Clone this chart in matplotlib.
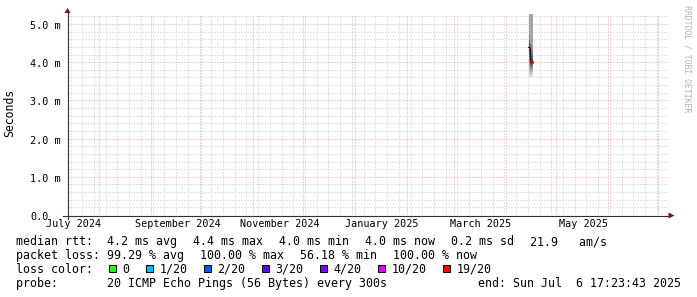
"""
Smokeping style latency graph (1 year view) redrawn with matplotlib.
"""
import matplotlib
matplotlib.use("Agg")
import matplotlib.pyplot as plt
import matplotlib.dates as mdates
import matplotlib.transforms as mtransforms
from matplotlib.patches import Rectangle
from matplotlib.ticker import MultipleLocator
import pandas as pd

W, H, DPI = 697, 297, 100
MONO = "DejaVu Sans Mono"

# ---- data ------------------------------------------------------------------
x_start = pd.Timestamp("2024-07-12 21:00")
x_end = pd.Timestamp("2025-07-06 17:23")
y_max_ms = 5.26

# the only replies of the year: a short burst in mid April 2025
sample_start = pd.to_datetime(["2025-04-14 12:00", "2025-04-15 02:00",
                               "2025-04-15 16:00", "2025-04-16 06:00"])
sample_days = 0.58
median_ms = [4.4, 4.0, 4.0, 4.0]
loss_of_sample = [19, 19, 19, 19]
# 20 sorted ping times (ms) per sample
pings_ms = [
    [3.62, 3.70, 3.78, 3.86, 3.94, 4.02, 4.10, 4.20, 4.30, 4.40,
     4.42, 4.46, 4.50, 4.55, 4.60, 4.70, 5.40, 5.90, 6.30, 6.80],
    [3.60, 3.66, 3.72, 3.78, 3.82, 3.86, 3.90, 3.94, 3.97, 4.00,
     4.02, 4.08, 4.16, 4.26, 4.36, 4.50, 5.40, 5.90, 6.30, 6.80],
    [3.60, 3.67, 3.73, 3.79, 3.83, 3.87, 3.91, 3.95, 3.98, 4.00,
     4.02, 4.07, 4.15, 4.25, 4.35, 4.48, 5.35, 5.80, 6.20, 6.60],
    [3.62, 3.68, 3.74, 3.80, 3.84, 3.88, 3.92, 3.95, 3.98, 4.00,
     4.02, 4.08, 4.14, 4.22, 4.32, 4.45, 5.30, 5.70, 6.00, 6.50],
]

y_ticks = [0, 1, 2, 3, 4, 5]
y_tick_labels = ["0.0", "1.0 m", "2.0 m", "3.0 m", "4.0 m", "5.0 m"]

month_labels = ["July 2024", "September 2024", "November 2024",
                "January 2025", "March 2025", "May 2025"]
month_label_starts = pd.to_datetime(["2024-07-01", "2024-09-01", "2024-11-01",
                                     "2025-01-01", "2025-03-01", "2025-05-01"])

loss_steps = ["0", "1/20", "2/20", "3/20", "4/20", "10/20", "19/20"]
loss_levels = [0, 1, 2, 3, 4, 10, 19]
loss_colors = ["#26ff00", "#00b8ff", "#0059ff", "#5e00ff", "#7e00ff",
               "#dd00ff", "#ff0000"]

rtt_items = ["median rtt:  4.2 ms avg", "4.4 ms max", "4.0 ms min",
             "4.0 ms now", "0.2 ms sd", "21.9   am/s"]
loss_items = ["packet loss: 99.29 % avg", "100.00 % max", "56.18 % min",
              "100.00 % now"]
probe_text = "probe:       20 ICMP Echo Pings (56 Bytes) every 300s"
end_text = "end: Sun Jul  6 17:23:43 2025"


def loss_color(loss):
    col = loss_colors[0]
    for lvl, c in zip(loss_levels, loss_colors):
        if loss >= lvl:
            col = c
    return col


# ---- layout (pixel geometry of the rrdtool canvas) -------------------------
left, right, top, bottom = 67, 668, 14, 215
baselines = [245.2, 259.1, 272.8, 286.6]
leg_size = 8.37      # ~7 px per character
char_w = 7.0
gap = 16             # rrdtool space between legend items
box_slot = 14

fig = plt.figure(figsize=(W / DPI, H / DPI), dpi=DPI, facecolor="white")
ax = fig.add_axes([left / W, 1 - bottom / H, (right - left) / W, (bottom - top) / H])
ax.set_facecolor("white")
ax.set_xlim(mdates.date2num(x_start), mdates.date2num(x_end))
ax.set_ylim(0, y_max_ms)

# grid
ax.xaxis.set_major_locator(mdates.MonthLocator())
ax.xaxis.set_minor_locator(mdates.WeekdayLocator(byweekday=mdates.MO))
ax.yaxis.set_major_locator(MultipleLocator(1))
ax.yaxis.set_minor_locator(MultipleLocator(0.2))
ax.grid(which="minor", color="#c8c8c8", ls=(0, (1, 2)), lw=0.72)
ax.grid(which="major", color="#ff0000", alpha=0.38, ls=(0, (1, 2)), lw=0.72)
ax.tick_params(which="both", length=0, labelbottom=False, labelleft=False)
for s in ax.spines.values():
    s.set_visible(False)
ax.set_axisbelow(True)

# smoke: pairs of sorted pings filled as grey bands, darker toward the middle
t_edges = [mdates.date2num(t) for t in sample_start]
x_edges = t_edges + [t_edges[-1] + sample_days]
half = 10
for i in range(half):
    g = int(190 / half * (half - (i + 1))) + 50
    lo = [p[i] for p in pings_ms]
    hi = [p[19 - i] for p in pings_ms]
    ax.fill_between(x_edges, lo + [lo[-1]], hi + [hi[-1]], step="post",
                    color=f"#{g:02x}{g:02x}{g:02x}", lw=0, zorder=2)

# median: thin dark step line under loss coloured segments
ax.step([t_edges[0] - sample_days] + x_edges,
        [median_ms[0]] + median_ms + [median_ms[-1]],
        where="post", color="#202020", lw=0.8, zorder=3)
for t0, m, lo in zip(t_edges, median_ms, loss_of_sample):
    ax.hlines(m, t0, t0 + sample_days, color=loss_color(lo), lw=2.3, zorder=4)

# y labels (left aligned like rrdtool's fixed-width labels)
ytr = mtransforms.offset_copy(ax.get_yaxis_transform(), fig, x=0, y=-3.6,
                              units="points")
for v, lab in zip(y_ticks, y_tick_labels):
    ax.text((30 - left) / (right - left), v, lab, transform=ytr, ha="left",
            va="baseline", family=MONO, size=7.3)

# month labels, centred half a month after the month start
xtr = ax.get_xaxis_transform()
for m0, lab in zip(month_label_starts, month_labels):
    ax.text(mdates.date2num(m0 + pd.Timedelta(days=16)), -(227 - bottom) / (bottom - top),
            lab, transform=xtr, ha="center", va="baseline", family=MONO, size=7.3)

# ---- overlay in canvas pixels: axes, arrows, legend --------------------------
ov = fig.add_axes([0, 0, 1, 1], zorder=5)
ov.set_xlim(0, W)
ov.set_ylim(H, 0)
ov.axis("off")

axis_col, arrow_col = "#303030", "#8b1010"
ov.plot([63, 671], [bottom + 0.5, bottom + 0.5], color=axis_col, lw=0.8)
ov.plot([left + 0.5, left + 0.5], [bottom + 4, 10], color=axis_col, lw=0.8)
ov.fill([668.5, 668.5, 674.5], [212.5, 218.5, 215.5], color=arrow_col, lw=0)
ov.fill([64.5, 70.5, 67.5], [13, 13, 8], color=arrow_col, lw=0)

ov.text(10, 112.5, "Seconds", rotation=90, ha="center", va="center",
        family=MONO, size=8.3)
ov.text(686.5, 5, "RRDTOOL / TOBI OETIKER", rotation=270, ha="center", va="top",
        family=MONO, size=5.9, color="#b4b4b4")


def leg(x, row, s, ha="left"):
    ov.text(x, baselines[row], s, ha=ha, va="baseline", family=MONO, size=leg_size)


x0 = 15.6
for row, items in ((0, rtt_items), (1, loss_items)):
    x = x0
    for s in items:
        leg(x, row, s)
        x += len(s) * char_w + gap

leg(x0, 2, "loss color:")
x = x0 + len("loss color:") * char_w + gap
for lab, col in zip(loss_steps, loss_colors):
    ov.add_patch(Rectangle((x + 0.5, 265), 7, 7, facecolor=col, edgecolor="black",
                           lw=0.72))
    leg(x + box_slot, 2, lab)
    x += box_slot + len(lab) * char_w + gap

leg(x0, 3, probe_text)
leg(681, 3, end_text, ha="right")

fig.savefig("out.png", dpi=DPI, facecolor="white")
